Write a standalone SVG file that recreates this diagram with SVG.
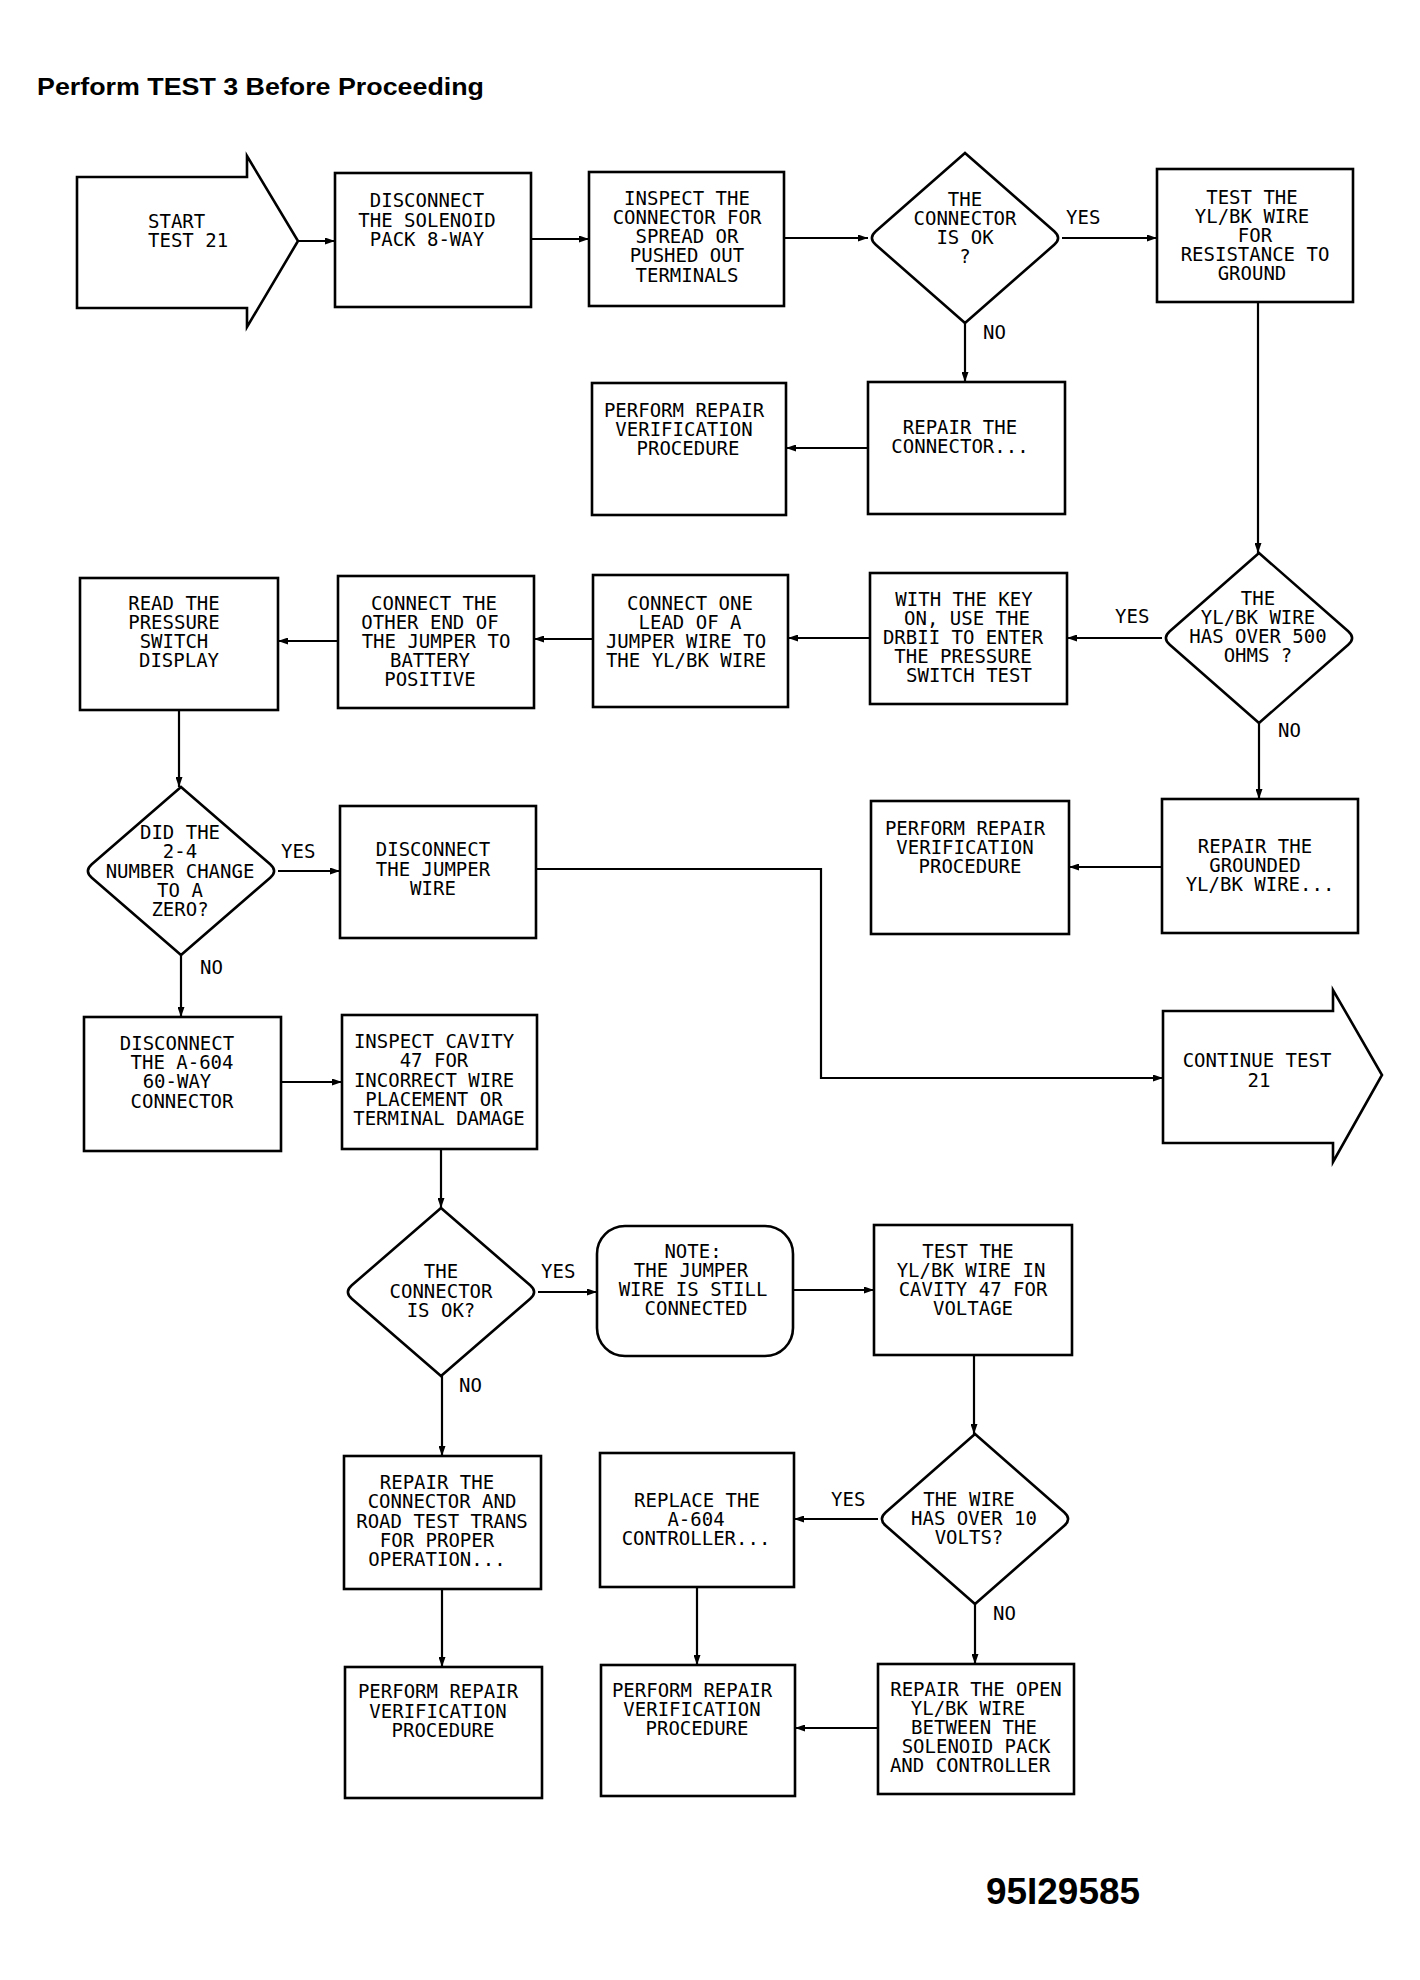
<svg xmlns="http://www.w3.org/2000/svg" width="1420" height="1980" viewBox="0 0 1420 1980">
<defs>
<style>
.bx{fill:none;stroke:#000;stroke-width:2.6}
.ln{fill:none;stroke:#000;stroke-width:2.2}
.t{font-family:"DejaVu Sans Mono","Liberation Mono",monospace;font-size:19px;text-anchor:middle;fill:#000}
.l{font-family:"DejaVu Sans Mono","Liberation Mono",monospace;font-size:19px;text-anchor:start;fill:#000}
.h{font-family:"Liberation Sans",Arial,sans-serif;font-weight:bold;fill:#000}
</style>
<marker id="ah" viewBox="0 0 10 7" refX="10" refY="3.5" markerWidth="10" markerHeight="7" markerUnits="userSpaceOnUse" orient="auto">
<path d="M0,0 L10,3.5 L0,7 Z" fill="#000"/>
</marker>
</defs>
<rect width="1420" height="1980" fill="#fff"/>
<text class="h" x="37" y="95" font-size="24" textLength="447" lengthAdjust="spacingAndGlyphs">Perform TEST 3 Before Proceeding</text>
<text class="h" x="986" y="1904" font-size="36" textLength="154" lengthAdjust="spacingAndGlyphs">95I29585</text>

<g id="connectors">
<path class="ln" marker-end="url(#ah)" d="M298,241 H335"/>
<path class="ln" marker-end="url(#ah)" d="M531,239 H589"/>
<path class="ln" marker-end="url(#ah)" d="M784,238 H868"/>
<path class="ln" marker-end="url(#ah)" d="M1062,238 H1157"/>
<path class="ln" marker-end="url(#ah)" d="M965,323 V382"/>
<path class="ln" marker-end="url(#ah)" d="M868,448 H786"/>
<path class="ln" marker-end="url(#ah)" d="M1258,302 V553"/>
<path class="ln" marker-end="url(#ah)" d="M1162,638 H1067"/>
<path class="ln" marker-end="url(#ah)" d="M1259,723 V799"/>
<path class="ln" marker-end="url(#ah)" d="M1162,867 H1069"/>
<path class="ln" marker-end="url(#ah)" d="M870,638 H788"/>
<path class="ln" marker-end="url(#ah)" d="M593,639 H534"/>
<path class="ln" marker-end="url(#ah)" d="M338,641 H278"/>
<path class="ln" marker-end="url(#ah)" d="M179,710 V787"/>
<path class="ln" marker-end="url(#ah)" d="M278,871 H340"/>
<path class="ln" marker-end="url(#ah)" d="M536,869 H821 V1078 H1163"/>
<path class="ln" marker-end="url(#ah)" d="M181,955 V1017"/>
<path class="ln" marker-end="url(#ah)" d="M281,1082 H342"/>
<path class="ln" marker-end="url(#ah)" d="M441,1149 V1208"/>
<path class="ln" marker-end="url(#ah)" d="M538,1292 H597"/>
<path class="ln" marker-end="url(#ah)" d="M793,1290 H874"/>
<path class="ln" marker-end="url(#ah)" d="M442,1376 V1456"/>
<path class="ln" marker-end="url(#ah)" d="M442,1589 V1667"/>
<path class="ln" marker-end="url(#ah)" d="M974,1355 V1434"/>
<path class="ln" marker-end="url(#ah)" d="M878,1519 H794"/>
<path class="ln" marker-end="url(#ah)" d="M975,1604 V1664"/>
<path class="ln" marker-end="url(#ah)" d="M697,1587 V1665"/>
<path class="ln" marker-end="url(#ah)" d="M878,1728 H795"/>
<text class="l" x="1066" y="224">YES</text>
<text class="l" x="983" y="339">NO</text>
<text class="l" x="1115" y="623">YES</text>
<text class="l" x="1278" y="737">NO</text>
<text class="l" x="281" y="858">YES</text>
<text class="l" x="200" y="974">NO</text>
<text class="l" x="541" y="1278">YES</text>
<text class="l" x="459" y="1392">NO</text>
<text class="l" x="831" y="1506">YES</text>
<text class="l" x="993" y="1620">NO</text>
</g>

<g id="start">
<path class="bx" d="M77,177 H247 V156 L298,241 L247,327 V308 H77 Z"/>
<text class="l"><tspan x="148" y="228">START</tspan><tspan x="148" y="247">TEST 21</tspan></text>
</g>
<g id="disconnect-solenoid">
<rect class="bx" x="335" y="173" width="196" height="134"/>
<text class="t"><tspan x="427" y="207">DISCONNECT</tspan><tspan x="427" y="227">THE SOLENOID</tspan><tspan x="427" y="246">PACK 8-WAY</tspan></text>
</g>
<g id="inspect-connector">
<rect class="bx" x="589" y="172" width="195" height="134"/>
<text class="t"><tspan x="687" y="205">INSPECT THE</tspan><tspan x="687" y="224">CONNECTOR FOR</tspan><tspan x="687" y="243">SPREAD OR</tspan><tspan x="687" y="262">PUSHED OUT</tspan><tspan x="687" y="282">TERMINALS</tspan></text>
</g>
<g id="d1">
<path class="bx" d="M965,153 L1054.2,231.2 Q1062,238 1054.2,244.8 L965,323 L875.8,244.8 Q868,238 875.8,231.2 Z"/>
<text class="t"><tspan x="965" y="206">THE</tspan><tspan x="965" y="225">CONNECTOR</tspan><tspan x="965" y="244">IS OK</tspan><tspan x="965" y="263">?</tspan></text>
</g>
<g id="test-resistance">
<rect class="bx" x="1157" y="169" width="196" height="133"/>
<text class="t"><tspan x="1252" y="204">TEST THE</tspan><tspan x="1252" y="223">YL/BK WIRE</tspan><tspan x="1255" y="242">FOR</tspan><tspan x="1255" y="261">RESISTANCE TO</tspan><tspan x="1252" y="280">GROUND</tspan></text>
</g>
<g id="repair-connector">
<rect class="bx" x="868" y="382" width="197" height="132"/>
<text class="t"><tspan x="960" y="434">REPAIR THE</tspan><tspan x="960" y="453">CONNECTOR...</tspan></text>
</g>
<g id="perform-1">
<rect class="bx" x="592" y="383" width="194" height="132"/>
<text class="t"><tspan x="684" y="417">PERFORM REPAIR</tspan><tspan x="684" y="436">VERIFICATION</tspan><tspan x="688" y="455">PROCEDURE</tspan></text>
</g>
<g id="d2">
<path class="bx" d="M1259,553 L1348.2,631.2 Q1356,638 1348.2,644.8 L1259,723 L1169.8,644.8 Q1162,638 1169.8,631.2 Z"/>
<text class="t"><tspan x="1258" y="605">THE</tspan><tspan x="1258" y="624">YL/BK WIRE</tspan><tspan x="1258" y="643">HAS OVER 500</tspan><tspan x="1258" y="662">OHMS ?</tspan></text>
</g>
<g id="with-key">
<rect class="bx" x="870" y="573" width="197" height="131"/>
<text class="t"><tspan x="964" y="606">WITH THE KEY</tspan><tspan x="967" y="625">ON, USE THE</tspan><tspan x="963" y="644">DRBII TO ENTER</tspan><tspan x="963" y="663">THE PRESSURE</tspan><tspan x="969" y="682">SWITCH TEST</tspan></text>
</g>
<g id="connect-one">
<rect class="bx" x="593" y="575" width="195" height="132"/>
<text class="t"><tspan x="690" y="610">CONNECT ONE</tspan><tspan x="690" y="629">LEAD OF A</tspan><tspan x="686" y="648">JUMPER WIRE TO</tspan><tspan x="686" y="667">THE YL/BK WIRE</tspan></text>
</g>
<g id="connect-other">
<rect class="bx" x="338" y="576" width="196" height="132"/>
<text class="t"><tspan x="434" y="610">CONNECT THE</tspan><tspan x="430" y="629">OTHER END OF</tspan><tspan x="436" y="648">THE JUMPER TO</tspan><tspan x="430" y="667">BATTERY</tspan><tspan x="430" y="686">POSITIVE</tspan></text>
</g>
<g id="read-display">
<rect class="bx" x="80" y="578" width="198" height="132"/>
<text class="t"><tspan x="174" y="610">READ THE</tspan><tspan x="174" y="629">PRESSURE</tspan><tspan x="174" y="648">SWITCH</tspan><tspan x="179" y="667">DISPLAY</tspan></text>
</g>
<g id="d3">
<path class="bx" d="M181,787 L270.2,864.3 Q278,871 270.2,877.7 L181,955 L91.8,877.7 Q84,871 91.8,864.3 Z"/>
<text class="t"><tspan x="180" y="839">DID THE</tspan><tspan x="180" y="858">2-4</tspan><tspan x="180" y="878">NUMBER CHANGE</tspan><tspan x="180" y="897">TO A</tspan><tspan x="180" y="916">ZERO?</tspan></text>
</g>
<g id="disconnect-jumper">
<rect class="bx" x="340" y="806" width="196" height="132"/>
<text class="t"><tspan x="433" y="856">DISCONNECT</tspan><tspan x="433" y="876">THE JUMPER</tspan><tspan x="433" y="895">WIRE</tspan></text>
</g>
<g id="repair-grounded">
<rect class="bx" x="1162" y="799" width="196" height="134"/>
<text class="t"><tspan x="1255" y="853">REPAIR THE</tspan><tspan x="1255" y="872">GROUNDED</tspan><tspan x="1260" y="891">YL/BK WIRE...</tspan></text>
</g>
<g id="perform-2">
<rect class="bx" x="871" y="801" width="198" height="133"/>
<text class="t"><tspan x="965" y="835">PERFORM REPAIR</tspan><tspan x="965" y="854">VERIFICATION</tspan><tspan x="970" y="873">PROCEDURE</tspan></text>
</g>
<g id="continue">
<path class="bx" d="M1163,1011 H1333 V990 L1382,1075 L1333,1162 V1143 H1163 Z"/>
<text class="t"><tspan x="1257" y="1067">CONTINUE TEST</tspan><tspan x="1259" y="1087">21</tspan></text>
</g>
<g id="disconnect-a604">
<rect class="bx" x="84" y="1017" width="197" height="134"/>
<text class="t"><tspan x="177" y="1050">DISCONNECT</tspan><tspan x="182" y="1069">THE A-604</tspan><tspan x="177" y="1088">60-WAY</tspan><tspan x="182" y="1108">CONNECTOR</tspan></text>
</g>
<g id="inspect-cavity">
<rect class="bx" x="342" y="1015" width="195" height="134"/>
<text class="t"><tspan x="434" y="1048">INSPECT CAVITY</tspan><tspan x="434" y="1067">47 FOR</tspan><tspan x="434" y="1087">INCORRECT WIRE</tspan><tspan x="434" y="1106">PLACEMENT OR</tspan><tspan x="439" y="1125">TERMINAL DAMAGE</tspan></text>
</g>
<g id="d4">
<path class="bx" d="M441,1208 L530.2,1285.3 Q538,1292 530.2,1298.7 L441,1376 L351.8,1298.7 Q344,1292 351.8,1285.3 Z"/>
<text class="t"><tspan x="441" y="1278">THE</tspan><tspan x="441" y="1298">CONNECTOR</tspan><tspan x="441" y="1317">IS OK?</tspan></text>
</g>
<g id="note">
<rect class="bx" x="597" y="1226" width="196" height="130" rx="28" ry="28"/>
<text class="t"><tspan x="693" y="1258">NOTE:</tspan><tspan x="691" y="1277">THE JUMPER</tspan><tspan x="693" y="1296">WIRE IS STILL</tspan><tspan x="696" y="1315">CONNECTED</tspan></text>
</g>
<g id="test-cavity">
<rect class="bx" x="874" y="1225" width="198" height="130"/>
<text class="t"><tspan x="968" y="1258">TEST THE</tspan><tspan x="971" y="1277">YL/BK WIRE IN</tspan><tspan x="973" y="1296">CAVITY 47 FOR</tspan><tspan x="973" y="1315">VOLTAGE</tspan></text>
</g>
<g id="repair-road-test">
<rect class="bx" x="344" y="1456" width="197" height="133"/>
<text class="t"><tspan x="437" y="1489">REPAIR THE</tspan><tspan x="442" y="1508">CONNECTOR AND</tspan><tspan x="442" y="1528">ROAD TEST TRANS</tspan><tspan x="437" y="1547">FOR PROPER</tspan><tspan x="437" y="1566">OPERATION...</tspan></text>
</g>
<g id="perform-3">
<rect class="bx" x="345" y="1667" width="197" height="131"/>
<text class="t"><tspan x="438" y="1698">PERFORM REPAIR</tspan><tspan x="438" y="1718">VERIFICATION</tspan><tspan x="443" y="1737">PROCEDURE</tspan></text>
</g>
<g id="replace-controller">
<rect class="bx" x="600" y="1453" width="194" height="134"/>
<text class="t"><tspan x="697" y="1507">REPLACE THE</tspan><tspan x="696" y="1526">A-604</tspan><tspan x="696" y="1545">CONTROLLER...</tspan></text>
</g>
<g id="perform-4">
<rect class="bx" x="601" y="1665" width="194" height="131"/>
<text class="t"><tspan x="692" y="1697">PERFORM REPAIR</tspan><tspan x="692" y="1716">VERIFICATION</tspan><tspan x="697" y="1735">PROCEDURE</tspan></text>
</g>
<g id="d5">
<path class="bx" d="M975,1434 L1064.2,1512.2 Q1072,1519 1064.2,1525.8 L975,1604 L885.8,1525.8 Q878,1519 885.8,1512.2 Z"/>
<text class="t"><tspan x="969" y="1506">THE WIRE</tspan><tspan x="974" y="1525">HAS OVER 10</tspan><tspan x="969" y="1544">VOLTS?</tspan></text>
</g>
<g id="repair-open">
<rect class="bx" x="878" y="1664" width="196" height="130"/>
<text class="t"><tspan x="976" y="1696">REPAIR THE OPEN</tspan><tspan x="968" y="1715">YL/BK WIRE</tspan><tspan x="974" y="1734">BETWEEN THE</tspan><tspan x="976" y="1753">SOLENOID PACK</tspan><tspan x="970" y="1772">AND CONTROLLER</tspan></text>
</g>
</svg>
